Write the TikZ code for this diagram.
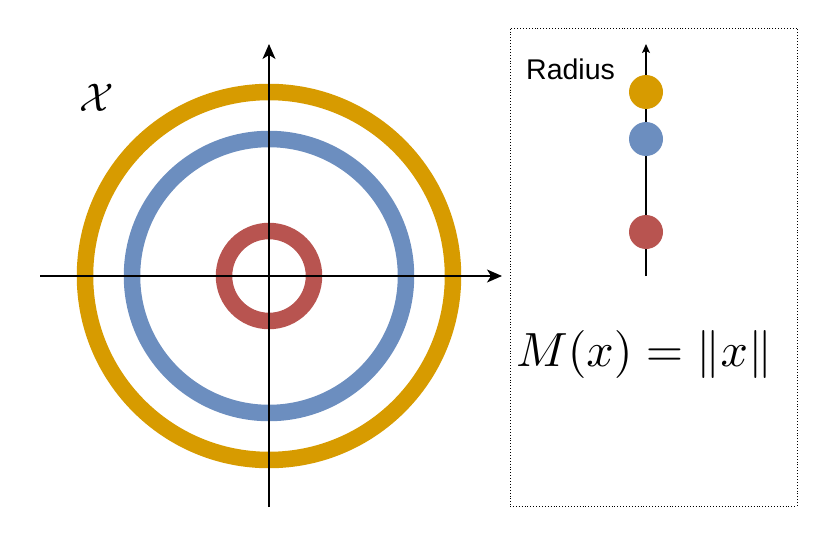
\documentclass[tikz,border=0pt]{standalone}
\usepackage{fontspec}
\newfontfamily\lab{Liberation Sans}
\usetikzlibrary{arrows.meta}
\definecolor{corange}{HTML}{D79B00}
\definecolor{cblue}{HTML}{6C8EBF}
\definecolor{cred}{HTML}{B85450}
\begin{document}
\begin{tikzpicture}[x=1pt,y=-1pt,
  ring/.style={line width=16.5pt},
  axis/.style={line width=1.3pt,-{Stealth[length=15pt,width=13pt,inset=4pt]}},
  raxis/.style={line width=1.3pt,-{Stealth[length=9pt,width=8pt,inset=2pt]}},
  dot/.style={circle,minimum size=34pt,inner sep=0pt},
  legendbox/.style={draw,dotted,line width=0.9pt}]
\useasboundingbox (0,0) rectangle (831,554);
% rings
\coordinate (o) at (269,276);
\draw[ring,corange] (o) circle[radius=184];
\draw[ring,cblue] (o) circle[radius=137];
\draw[ring,cred] (o) circle[radius=45];
% axes
\coordinate (xl) at (40,276);
\coordinate (xr) at (502,276);
\coordinate (yb) at (269,507);
\coordinate (yt) at (269,44);
\draw[axis] (xl) -- (xr);
\draw[axis] (yb) -- (yt);
\node[scale=4] (X) at (97,98) {$\mathcal{X}$};
% legend
\node[legendbox,minimum width=287pt,minimum height=478pt,inner sep=0pt] (box) at (653.5,267) {};
\coordinate (rb) at (646,276);
\coordinate (rt) at (646,44);
\draw[raxis] (rb) -- (rt);
\node[dot,fill=corange] (d1) at (646,92) {};
\node[dot,fill=cblue] (d2) at (646,139) {};
\node[dot,fill=cred] (d3) at (646,232) {};
\node[anchor=west,inner sep=0pt] (rad) at (526,69) {\lab\fontsize{28.5}{28.5}\selectfont Radius};
\node[scale=4.8] (f) at (644,354) {$M(x)=\|x\|$};
\end{tikzpicture}
\end{document}
